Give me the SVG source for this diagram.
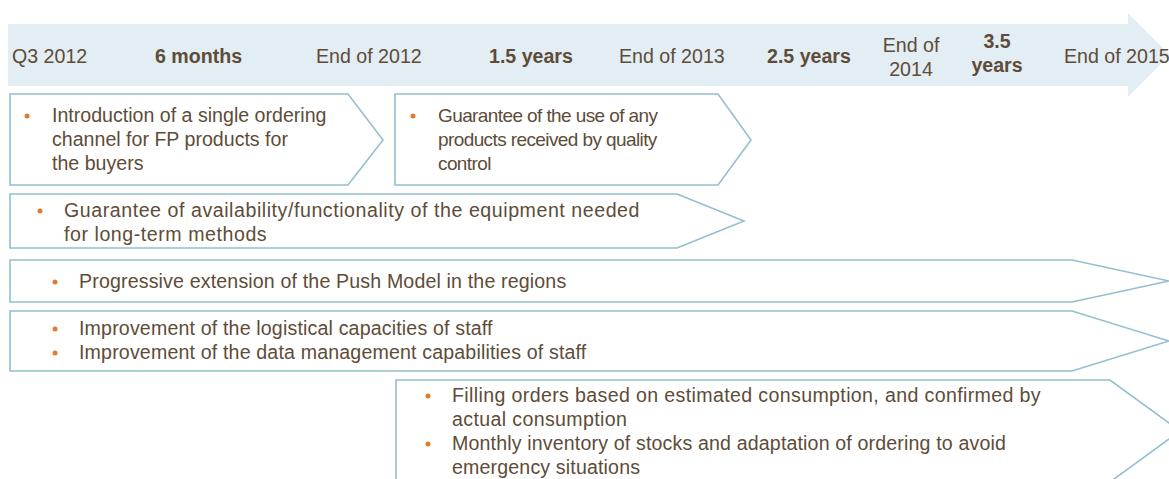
<svg xmlns="http://www.w3.org/2000/svg" width="1169" height="479" viewBox="0 0 1169 479">
  <style>
    .lbl { font-family: "Liberation Sans", Arial, sans-serif; font-size: 19.6px; fill: #5e4c38; }
    .tl { font-family: "Liberation Sans", Arial, sans-serif; font-size: 19.6px; fill: #5e4c38; }
    .b { font-weight: bold; }
    .tight { font-size: 19px; letter-spacing: -0.6px; }
    .chev { fill: #ffffff; stroke: #93bfcf; stroke-width: 1.6; stroke-linejoin: miter; }
    .dot { fill: #e07a30; }
  </style>
  <rect width="1169" height="479" fill="#ffffff"/>

  <!-- timeline arrow -->
  <g id="timeline">
    <path d="M8,24 H1128 V13 L1170,55 L1128,97 V86 H8 Z" fill="#e2edf4"/>
    <text class="tl" x="12" y="63">Q3 2012</text>
    <text class="tl b" x="155" y="63">6 months</text>
    <text class="tl" x="316" y="63">End of 2012</text>
    <text class="tl b" x="489" y="63">1.5 years</text>
    <text class="tl" x="619" y="63">End of 2013</text>
    <text class="tl b" x="767" y="63">2.5 years</text>
    <text class="tl" x="911" y="52" text-anchor="middle" font-size="19">End of</text>
    <text class="tl" x="911" y="76" text-anchor="middle" font-size="19">2014</text>
    <text class="tl b" x="997" y="48" text-anchor="middle" font-size="17.5">3.5</text>
    <text class="tl b" x="997" y="72" text-anchor="middle" font-size="17.5">years</text>
    <text class="tl" x="1064" y="63">End of 2015</text>
  </g>

  <g id="ordering-channel">
    <path class="chev" d="M10,94 H348 L383,140 L348,185 H10 Z"/>
    <circle class="dot" cx="27" cy="116" r="2.5"/>
    <text class="lbl" x="52" y="122">Introduction of a single ordering</text>
    <text class="lbl" x="52" y="146">channel for FP products for</text>
    <text class="lbl" x="52" y="170">the buyers</text>
  </g>

  <g id="quality-control">
    <path class="chev" d="M395,94 H718 L751,140 L718,185 H395 Z"/>
    <circle class="dot" cx="413" cy="116" r="2.5"/>
    <text class="lbl tight" x="438" y="122">Guarantee of the use of any</text>
    <text class="lbl tight" x="438" y="146">products received by quality</text>
    <text class="lbl tight" x="438" y="170">control</text>
  </g>

  <g id="equipment">
    <path class="chev" d="M10,194 H677 L744,221 L677,248 H10 Z"/>
    <circle class="dot" cx="40" cy="211" r="2.5"/>
    <text class="lbl" x="64" y="217" letter-spacing="0.55">Guarantee of availability/functionality of the equipment needed</text>
    <text class="lbl" x="64" y="241" letter-spacing="0.55">for long-term methods</text>
  </g>

  <g id="push-model">
    <path class="chev" d="M10,260 H1072 L1169,281 L1072,302 H10 Z"/>
    <circle class="dot" cx="55" cy="282" r="2.5"/>
    <text class="lbl" x="79" y="288" letter-spacing="0.15">Progressive extension of the Push Model in the regions</text>
  </g>

  <g id="staff-capacities">
    <path class="chev" d="M10,311 H1072 L1169,341 L1072,371 H10 Z"/>
    <circle class="dot" cx="55" cy="329" r="2.5"/>
    <text class="lbl" x="79" y="335" letter-spacing="0.16">Improvement of the logistical capacities of staff</text>
    <circle class="dot" cx="55" cy="353" r="2.5"/>
    <text class="lbl" x="79" y="359" letter-spacing="0.16">Improvement of the data management capabilities of staff</text>
  </g>

  <g id="consumption-orders">
    <path class="chev" d="M396,380 H1110 L1180,431 L1110,482 H396 Z"/>
    <circle class="dot" cx="428" cy="396" r="2.5"/>
    <text class="lbl" x="452" y="402" letter-spacing="0.36">Filling orders based on estimated consumption, and confirmed by</text>
    <text class="lbl" x="452" y="426" letter-spacing="0.36">actual consumption</text>
    <circle class="dot" cx="428" cy="444" r="2.5"/>
    <text class="lbl" x="452" y="450" letter-spacing="0.15">Monthly inventory of stocks and adaptation of ordering to avoid</text>
    <text class="lbl" x="452" y="474" letter-spacing="0.15">emergency situations</text>
  </g>

  <g id="connectors"></g>
</svg>
